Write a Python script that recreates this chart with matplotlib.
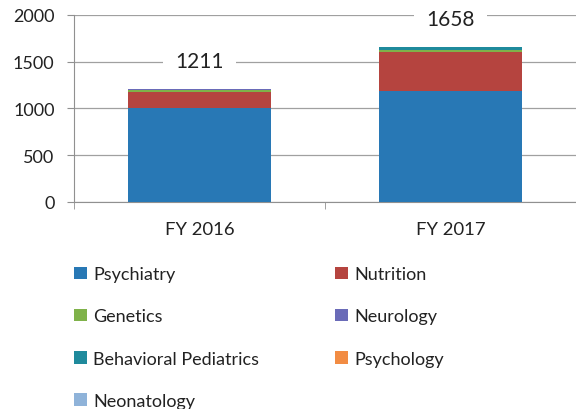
import matplotlib
matplotlib.use("Agg")
import matplotlib.pyplot as plt
from matplotlib.patches import Patch

categories = ["FY 2016", "FY 2017"]
series_names = ["Psychiatry", "Nutrition", "Genetics", "Neurology",
                "Behavioral Pediatrics", "Psychology", "Neonatology"]
psychiatry = [1010, 1185]
nutrition = [170, 420]
genetics = [20, 18]
neurology = [3, 2]
behavioral = [5, 30]
psychology = [2, 2]
neonatology = [1, 1]
totals = [1211, 1658]
yticks = [0, 500, 1000, 1500, 2000]

colors = ["#2878b5", "#b5443f", "#7fb24a", "#6a6bb8",
          "#1f8a9c", "#f28c43", "#8fb3d9"]

plt.rcParams['font.family'] = ['Lato', 'DejaVu Sans']

fig = plt.figure(figsize=(5.76, 4.10), dpi=100)
ax = fig.add_axes([0.1285, 0.505, 0.8715, 0.456])

data = [psychiatry, nutrition, genetics, neurology, behavioral, psychology, neonatology]
x = list(range(len(categories)))
bottom = [0] * len(categories)
for vals, c, name in zip(data, colors, series_names):
    ax.bar(x, vals, width=0.57, bottom=bottom, color=c, label=name, zorder=3)
    bottom = [b + v for b, v in zip(bottom, vals)]

for xi, t in zip(x, totals):
    ax.annotate(str(t), xy=(xi, t), xytext=(0, 20), textcoords="offset points",
                ha="center", va="center", fontsize=15, color="#222222",
                bbox=dict(boxstyle="square,pad=0.6", fc="white", ec="none"), zorder=4)

ax.set_xlim(-0.5, 1.5)
ax.set_ylim(0, 2000)
ax.set_yticks(yticks)
ax.set_yticklabels([str(v) for v in yticks], fontsize=13, color="#222222")
ax.set_xticks(x)
ax.set_xticklabels(categories, fontsize=13.3, color="#222222")
ax.set_xticks([-0.5, 0.5], minor=True)
ax.yaxis.grid(True, color="#a0a0a0", linewidth=0.9, zorder=0)
for s in ["top", "right"]:
    ax.spines[s].set_visible(False)
for s in ["left", "bottom"]:
    ax.spines[s].set_color("#909090")
ax.tick_params(axis="y", length=5, color="#909090", pad=9)
ax.tick_params(axis="x", which="major", length=0, pad=14)
ax.tick_params(axis="x", which="minor", length=5, color="#909090")

handles = [Patch(facecolor=c, edgecolor="none") for c in colors]
order = [0, 2, 4, 6, 1, 3, 5]
fig.legend([handles[i] for i in order], [series_names[i] for i in order],
           ncol=2, loc="upper left", bbox_to_anchor=(0.101, 0.388),
           frameon=False, fontsize=13, handlelength=0.7, handleheight=0.7,
           handletextpad=0.35, columnspacing=4.2, labelspacing=1.45,
           labelcolor="#222222")

fig.savefig("out.png", dpi=100)
